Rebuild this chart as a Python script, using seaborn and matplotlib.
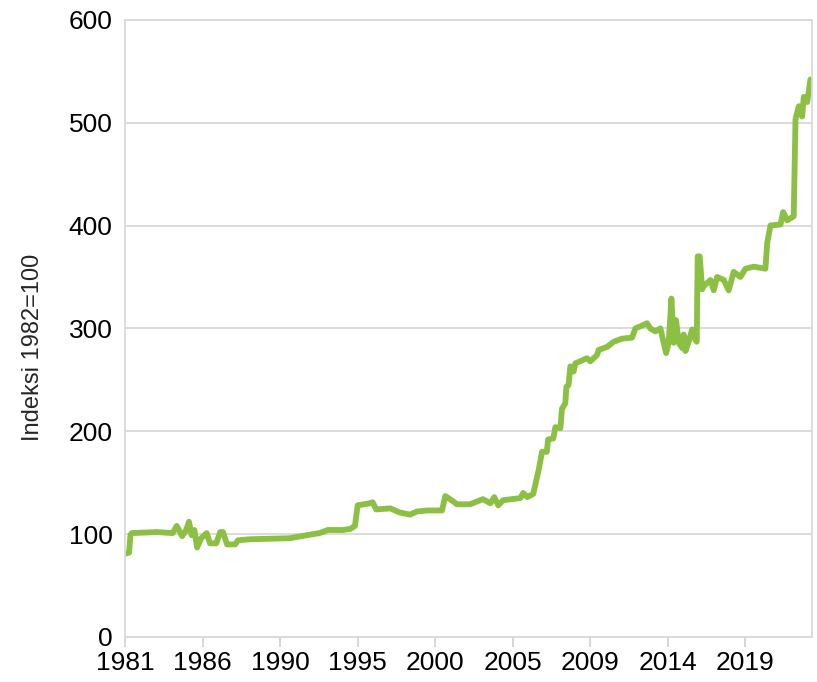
import pandas as pd
import matplotlib.pyplot as plt
import seaborn as sns

# Kuukausi-indeksi (0 = tammikuu 1981) ja indeksin arvo
kuukausi = [0, 3, 4, 5, 23.5, 35, 38, 42, 45, 47, 49, 51, 53, 56, 60, 62.5, 67, 70, 72, 75, 81, 83,
            92, 121, 134, 143, 149, 160, 165.5, 169, 171, 180, 182, 184.6, 195, 202, 209.6, 214.5,
            222, 233, 235.4, 240, 244, 253.7, 263, 268.5, 271.4, 274.3, 278, 290.5, 292.7, 295.7,
            300, 304, 306.5, 310, 311, 314.8, 316.3, 320, 321.2, 323.6, 324.4, 326, 327.3, 329.7,
            331, 339.6, 342, 346.9, 348.1, 354.3, 359.2, 365.3, 372.7, 375.1, 378.8, 383.7, 386,
            389.8, 393.5, 395.9, 397.7, 399.6, 401.6, 403.3, 405, 407, 409.5, 410.6, 411.9, 414.3,
            416.8, 419.2, 420.2, 420.9, 422.4, 424.2, 425.3, 427.8, 430.3, 432.7, 435.2, 440.1,
            443.7, 447.4, 452.3, 456, 462, 470.7, 472, 474.4, 481.8, 483.7, 486.7, 491.5, 492.8,
            495.2, 497.7, 498.9, 501.4, 503.8]
indeksi = [81, 82, 99, 101, 102, 101, 108, 98, 104, 112, 99, 104, 87, 96, 101, 91, 91, 102, 102, 90, 90, 94,
           95, 96, 99, 101, 104, 104, 105, 108, 128, 130, 131, 124, 125, 121, 119, 122,
           123, 123, 137, 133, 129, 129, 134, 130, 136, 128, 133, 135, 140, 136,
           139, 162, 180, 180, 192, 193, 204, 203, 222, 227, 243, 245, 263, 258,
           266, 271, 268, 274, 279, 282, 287, 290, 291, 300, 302, 305, 300,
           297, 300, 286, 276, 286, 329, 286, 308, 286, 281, 294, 278, 287,
           299, 289, 287, 370, 370, 338, 341, 344, 347, 337, 350, 347,
           337, 355, 350, 358, 360, 358, 383, 400, 401, 413, 405, 409, 503,
           516, 506, 525, 520, 542]

tick_pos = [0, 57, 114, 171, 228, 285, 342, 399, 456]
tick_labels = ['1981', '1986', '1990', '1995', '2000', '2005', '2009', '2014', '2019']

df = pd.DataFrame({'kuukausi': kuukausi, 'indeksi': indeksi})

sns.set_style("whitegrid")
plt.rcParams['font.family'] = ['Liberation Sans', 'DejaVu Sans']

fig = plt.figure(figsize=(8.17, 6.82), dpi=100)
ax = fig.add_axes([0.153, 0.066, 0.841, 0.905])

sns.lineplot(data=df, x='kuukausi', y='indeksi', color='#8cc044', linewidth=4.2, ax=ax)

ax.set_xlim(0, 505)
ax.set_ylim(0, 600)
ax.set_yticks(range(0, 601, 100))
ax.set_xticks(tick_pos)
ax.set_xticklabels(tick_labels)
ax.tick_params(axis='both', labelsize=19, colors='black')
ax.tick_params(axis='x', direction='out', length=7, width=1.2, color='#d0d0d0', bottom=True, pad=3)
ax.tick_params(axis='y', length=0, pad=9)

ax.grid(axis='y', color='#d9d9d9', linewidth=1.3)
ax.grid(axis='x', visible=False)
for s in ax.spines.values():
    s.set_color('#d9d9d9')
    s.set_linewidth(1.3)

ax.set_xlabel('')
ax.set_ylabel('Indeksi 1982=100', fontsize=17)
ax.yaxis.set_label_coords(-0.118, 0.47)

plt.savefig('out.png', dpi=100)
